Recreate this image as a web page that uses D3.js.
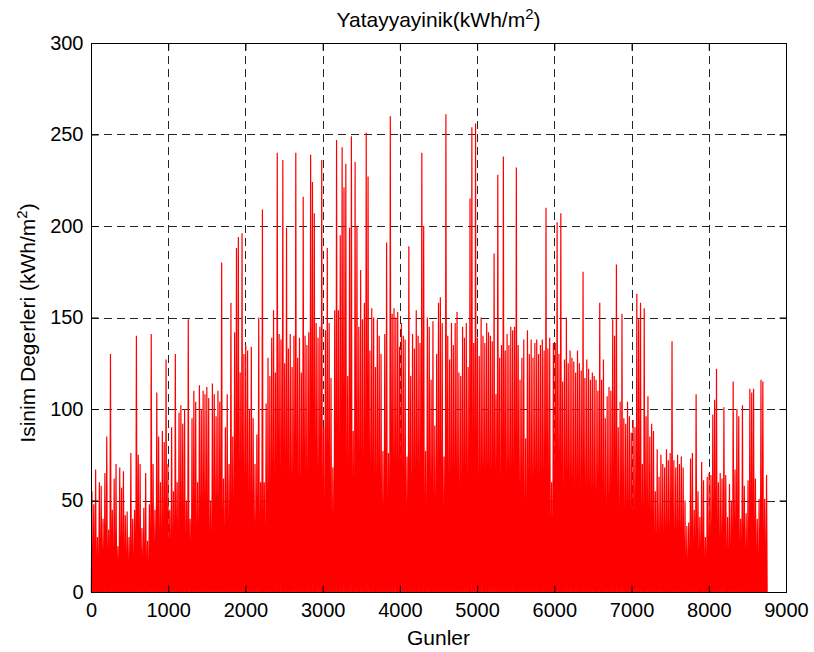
<!DOCTYPE html>
<html>
<head>
<meta charset="utf-8">
<script src="https://cdn.jsdelivr.net/npm/d3@7"></script>
<style>
  html, body { margin: 0; padding: 0; background: #fff; }
  svg text { font-family: "Liberation Sans", Arial, sans-serif; fill: #000; }
</style>
</head>
<body>
<svg id="chart" width="814" height="652"></svg>
<script>
// Daily peak of horizontal diffuse radiation over the year (one value per day)
const dailyPeak = [
  55, 48, 67, 30, 60, 58, 40, 65, 85, 34,
  130, 45, 62, 70, 25, 68, 57, 66, 42, 44,
  30, 76, 40, 45, 140, 75, 70, 35, 46, 65,
  28, 48, 141, 70, 45, 109, 85, 60, 88, 82,
  127, 70, 45, 90, 55, 130, 60, 98, 102, 92,
  100, 50, 149, 40, 95, 110, 104, 60, 113, 100,
  110, 108, 112, 106, 50, 114, 108, 96, 110, 104,
  180, 62, 90, 108, 70, 158, 85, 142, 188, 194,
  120, 196, 130, 135, 132, 100, 134, 95, 70, 86,
  150, 60, 209, 60, 103, 128, 118, 139, 154, 120,
  240, 141, 138, 236, 125, 199, 133, 141, 123, 140,
  240, 128, 139, 120, 216, 140, 135, 142, 239, 224,
  207, 147, 139, 145, 236, 90, 143, 188, 147, 117,
  68, 154, 247, 154, 195, 243, 221, 234, 118, 199,
  249, 88, 235, 200, 145, 176, 149, 158, 251, 227,
  132, 155, 150, 123, 149, 140, 130, 77, 141, 191,
  76, 260, 152, 155, 150, 153, 134, 147, 140, 138,
  74, 189, 118, 141, 133, 154, 140, 136, 240, 200,
  77, 150, 145, 116, 148, 91, 130, 158, 161, 147,
  74, 261, 140, 127, 147, 135, 147, 153, 120, 118,
  145, 139, 147, 123, 215, 254, 136, 256, 139, 129,
  150, 140, 136, 147, 142, 140, 137, 185, 108, 228,
  128, 135, 238, 132, 141, 135, 145, 143, 145, 232,
  135, 116, 128, 138, 84, 143, 130, 138, 128, 136,
  138, 130, 135, 138, 132, 210, 133, 139, 60, 136,
  136, 202, 130, 207, 115, 127, 150, 125, 132, 128,
  126, 120, 132, 125, 121, 175, 117, 127, 122, 116,
  120, 118, 116, 110, 158, 116, 127, 95, 107, 112,
  110, 149, 140, 179, 90, 104, 152, 95, 92, 104,
  96, 87, 94, 90, 163, 149, 158, 70, 155, 96,
  107, 85, 92, 88, 55, 78, 63, 75, 70, 68,
  78, 72, 76, 137, 72, 68, 75, 70, 74, 68,
  50, 36, 38, 73, 76, 45, 108, 55, 41, 71,
  61, 30, 63, 65, 64, 97, 105, 122, 60, 65,
  62, 101, 64, 41, 59, 50, 115, 67, 100, 96,
  40, 102, 58, 43, 61, 111, 109, 111, 62, 40,
  51, 116, 115, 51, 64
];

// Hours of sunrise, solar noon and sunset used to place each day's curve
const dayHours = [4, 12, 20];
const hoursPerDay = 24;

const xTicks = [0, 1000, 2000, 3000, 4000, 5000, 6000, 7000, 8000, 9000];
const yTicks = [0, 50, 100, 150, 200, 250, 300];

const titleText = "Yatayyayinik(kWh/m";
const yLabelText = "Isinim Degerleri (kWh/m";
const xLabelText = "Gunler";

// Hourly series: zero at sunrise and sunset, peak at noon
const series = [];
dailyPeak.forEach((p, d) => {
  series.push({ h: d * hoursPerDay + dayHours[0], v: 0 });
  series.push({ h: d * hoursPerDay + dayHours[1], v: p });
  series.push({ h: d * hoursPerDay + dayHours[2], v: 0 });
});

const svg = d3.select("#chart");
const W = 814, H = 652;
const m = { left: 91, right: 28, top: 43, bottom: 60 };
const x0 = m.left, x1 = W - m.right, y0 = H - m.bottom, y1 = m.top;

svg.append("rect").attr("width", W).attr("height", H).attr("fill", "#fff");

const x = d3.scaleLinear().domain([0, 9000]).range([x0, x1]);
const y = d3.scaleLinear().domain([0, 300]).range([y0, y1]);

// Dashed grid
const grid = svg.append("g").attr("stroke", "#000").attr("stroke-width", 1)
  .attr("stroke-dasharray", "8,5").attr("opacity", 0.85);
grid.selectAll("line.gx").data(xTicks.slice(1, -1)).join("line")
  .attr("x1", d => Math.round(x(d)) + 0.5).attr("x2", d => Math.round(x(d)) + 0.5)
  .attr("y1", y1).attr("y2", y0);
grid.selectAll("line.gy").data(yTicks).join("line")
  .attr("y1", d => Math.round(y(d)) + 0.5).attr("y2", d => Math.round(y(d)) + 0.5)
  .attr("x1", x0).attr("x2", x1);

// Radiation line
const line = d3.line().x(d => x(d.h)).y(d => y(d.v));
svg.append("path").datum(series)
  .attr("d", line)
  .attr("fill", "none")
  .attr("stroke", "#ff0000")
  .attr("stroke-width", 1.2)
  .attr("stroke-linejoin", "miter");

// Axes with inward ticks
const tickLen = 7;
const fmt = d3.format("d");
const axB = d3.axisBottom(x).tickValues(xTicks).tickFormat(fmt).tickSizeInner(-tickLen).tickSizeOuter(0).tickPadding(10);
const axL = d3.axisLeft(y).tickValues(yTicks).tickFormat(fmt).tickSizeInner(-tickLen).tickSizeOuter(0).tickPadding(8);
const axT = d3.axisTop(x).tickValues(xTicks).tickSizeInner(-tickLen).tickSizeOuter(0).tickFormat("");
const axR = d3.axisRight(y).tickValues(yTicks).tickSizeInner(-tickLen).tickSizeOuter(0).tickFormat("");

function style(g) {
  g.select(".domain").remove();
  g.selectAll("line").attr("stroke", "#000");
  g.selectAll("text").attr("font-size", 20).attr("font-family", "Liberation Sans, Arial, sans-serif");
}
svg.append("g").attr("transform", `translate(0,${y0 + 0.5})`).call(axB).call(style);
svg.append("g").attr("transform", `translate(${x0 + 0.5},0)`).call(axL).call(style);
svg.append("g").attr("transform", `translate(0,${y1 + 0.5})`).call(axT).call(style);
svg.append("g").attr("transform", `translate(${x1 + 0.5},0)`).call(axR).call(style);

// Box
svg.append("rect").attr("x", x0 + 0.5).attr("y", y1 + 0.5)
  .attr("width", x1 - x0).attr("height", y0 - y1)
  .attr("fill", "none").attr("stroke", "#000").attr("stroke-width", 1);

// Title
const t = svg.append("text").attr("x", (x0 + x1) / 2).attr("y", 27)
  .attr("text-anchor", "middle").attr("font-size", 21);
t.append("tspan").text(titleText);
t.append("tspan").attr("dy", -8).attr("font-size", 15).text("2");
t.append("tspan").attr("dy", 8).text(")");

// X label
svg.append("text").attr("x", (x0 + x1) / 2).attr("y", 645)
  .attr("text-anchor", "middle").attr("font-size", 21).text(xLabelText);

// Y label
const yl = svg.append("text")
  .attr("transform", `translate(35,323) rotate(-90)`)
  .attr("text-anchor", "middle").attr("font-size", 21);
yl.append("tspan").text(yLabelText);
yl.append("tspan").attr("dy", -8).attr("font-size", 15).text("2");
yl.append("tspan").attr("dy", 8).text(")");
</script>
</body>
</html>
